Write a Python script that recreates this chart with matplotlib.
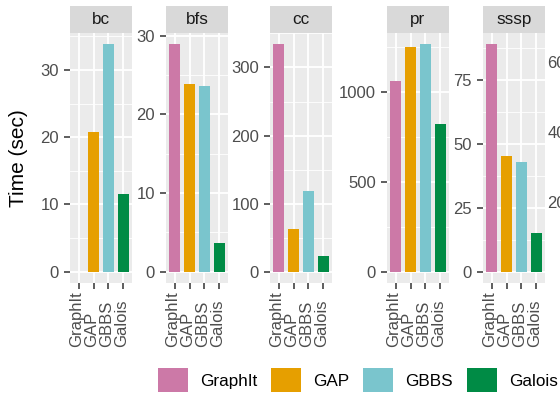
import numpy as np
import matplotlib
matplotlib.use("Agg")
import matplotlib.pyplot as plt
from matplotlib.patches import Patch
from matplotlib.ticker import AutoMinorLocator, MultipleLocator
from matplotlib.transforms import blended_transform_factory, ScaledTranslation

plt.rcParams['font.family'] = ['Liberation Sans', 'DejaVu Sans']

# data (seconds)
systems = ["GraphIt", "GAP", "GBBS", "Galois"]
colors = ["#CC79A7", "#E69F00", "#7AC5CD", "#008B45"]
apps = ["bc", "bfs", "cc", "pr", "sssp", "tc"]
bc = [np.nan, 20.7, 33.8, 11.6]
bfs = [28.9, 23.8, 23.6, 3.7]
cc = [334, 62, 119, 23.5]
pr = [1061, 1250, 1263, 822]
sssp = [88.8, 45.0, 43.0, 15.2]
tc = [650, 300, 250, 120]   # panel is cut off at the right edge
times = [bc, bfs, cc, pr, sssp, tc]
major_steps = [10, 10, 100, 500, 25, 200]

# panel left edges / widths in pixels (figure is 560 x 400)
W, H = 560, 400
panel_x = [70, 166, 270, 387, 483, 586]
panel_w = 62
panel_top, panel_bot = 33, 283
strip_top = 6

fig = plt.figure(figsize=(5.6, 4.0), dpi=100)

label_y = 1 - 347 / H
for app, vals, step, px in zip(apps, times, major_steps, panel_x):
    ax = fig.add_axes([px / W, 1 - panel_bot / H, panel_w / W, (panel_bot - panel_top) / H])
    ax.set_facecolor("#EBEBEB")
    x = np.arange(len(systems))
    ax.bar(x, vals, width=0.75, color=colors, zorder=3)
    m = np.nanmax(vals)
    ax.set_ylim(-0.05 * m, 1.05 * m)
    ax.set_xlim(-0.6, len(systems) - 0.4)
    ax.yaxis.set_major_locator(MultipleLocator(step))
    ax.yaxis.set_minor_locator(AutoMinorLocator(2))
    ax.set_xticks(x)
    ax.set_xticklabels([])
    ax.grid(which="major", color="white", linewidth=1.3, zorder=0)
    ax.grid(which="minor", axis="y", color="white", linewidth=0.6, zorder=0)
    ax.set_axisbelow(True)
    for s in ax.spines.values():
        s.set_visible(False)
    ax.tick_params(which="major", length=4.3, width=1.1, color="#333333",
                   labelsize=12, labelcolor="#4D4D4D", pad=3.6)
    ax.tick_params(which="minor", length=0)

    # category labels only where the panel lies inside the picture
    if px + panel_w <= W:
        trans = blended_transform_factory(ax.transData, fig.transFigure)
        trans = trans + ScaledTranslation(-2 / 100, 0, fig.dpi_scale_trans)
        for xi, name in zip(x, systems):
            ax.text(xi, label_y, name, rotation=90, ha="center", va="bottom",
                    fontsize=12, color="#4D4D4D", transform=trans)

    sax = fig.add_axes([px / W, 1 - panel_top / H, panel_w / W, (panel_top - strip_top) / H])
    sax.set_facecolor("#D9D9D9")
    sax.set_xticks([])
    sax.set_yticks([])
    for s in sax.spines.values():
        s.set_visible(False)
    sax.text(0.5, 0.5, app, ha="center", va="center", fontsize=12.3,
             color="#1A1A1A", transform=sax.transAxes)

fig.text(19 / W, 1 - 158 / H, "Time (sec)", rotation=90, ha="center",
         va="center", fontsize=15, color="black")

handles = [Patch(facecolor=c, edgecolor="none") for c in colors]
fs = 12.3
em = fs * 100 / 72
fig.legend(handles, systems, loc="center left", ncol=4,
           bbox_to_anchor=(158 / W, 1 - 380 / H), frameon=False,
           fontsize=fs, handlelength=30 / em, handleheight=30 / em,
           handletextpad=12 / em, columnspacing=14 / em,
           borderpad=0, borderaxespad=0)

fig.savefig("out.png", dpi=100)
